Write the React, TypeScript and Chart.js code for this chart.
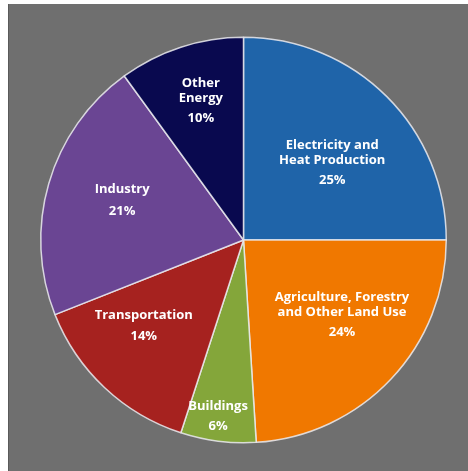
import React, { useEffect, useRef } from "react";
import { Chart, registerables } from "chart.js";

Chart.register(...registerables);

const categories: string[][] = [
  ["Electricity and", "Heat Production"],
  ["Agriculture, Forestry", "and Other Land Use"],
  ["Buildings"],
  ["Transportation"],
  ["Industry"],
  ["Other", "Energy"],
];
const shares: number[] = [25, 24, 6, 14, 21, 10];
const sliceColors: string[] = ["#1f64a9", "#f07800", "#84a63a", "#a6221f", "#6a4593", "#09094f"];

// label placement tuning: radial fraction and angular shift (degrees) from slice middle
const labelPlacement = [
  { r: 0.58, shift: 4, gap: 20 },
  { r: 0.61, shift: -6, gap: 20 },
  { r: 0.88, shift: 1, gap: 20 },
  { r: 0.65, shift: 6, gap: 21 },
  { r: 0.63, shift: 2, gap: 22 },
  { r: 0.72, shift: 1, gap: 20 },
];

const labelPlugin = {
  id: "sliceLabels",
  afterDatasetsDraw(chart: any) {
    const ctx = chart.ctx;
    const meta = chart.getDatasetMeta(0);
    ctx.save();
    ctx.fillStyle = "#ffffff";
    ctx.textAlign = "center";
    ctx.textBaseline = "middle";
    ctx.font = "bold 13px 'Open Sans'";
    meta.data.forEach((arc: any, i: number) => {
      const p = labelPlacement[i];
      const mid = (arc.startAngle + arc.endAngle) / 2 + (p.shift * Math.PI) / 180;
      const rad = arc.outerRadius * p.r;
      const cx = arc.x + Math.cos(mid) * rad;
      const cy = arc.y + Math.sin(mid) * rad;
      const lines = categories[i];
      const lh = 15;
      const total = (lines.length - 1) * lh + p.gap;
      let y = cy - total / 2;
      lines.forEach((t, k) => {
        ctx.fillText(t, cx, y + k * lh);
      });
      ctx.fillText(shares[i] + "%", cx, y + (lines.length - 1) * lh + p.gap);
    });
    ctx.restore();
  },
};

export default function App() {
  const ref = useRef<HTMLCanvasElement>(null);
  useEffect(() => {
    const chart = new Chart(ref.current!, {
      type: "pie",
      data: {
        labels: categories.map((c) => c.join(" ")),
        datasets: [
          {
            data: shares,
            backgroundColor: sliceColors,
            borderColor: "rgba(235,235,240,0.85)",
            borderWidth: 1.5,
          },
        ],
      },
      options: {
        animation: false,
        responsive: false,
        layout: { padding: { left: 31, right: 21, top: 32, bottom: 27 } },
        plugins: { legend: { display: false }, tooltip: { enabled: false } },
      },
      plugins: [labelPlugin],
    });
    return () => chart.destroy();
  }, []);
  return (
    <div
      style={{
        position: "fixed",
        left: 8,
        top: 4,
        width: 460,
        height: 467,
        background: "#6f6f6f",
        borderLeft: "1px solid #5a5a5a",
        boxSizing: "border-box",
      }}
    >
      <canvas ref={ref} width={459} height={467} style={{ display: "block" }} />
    </div>
  );
}
